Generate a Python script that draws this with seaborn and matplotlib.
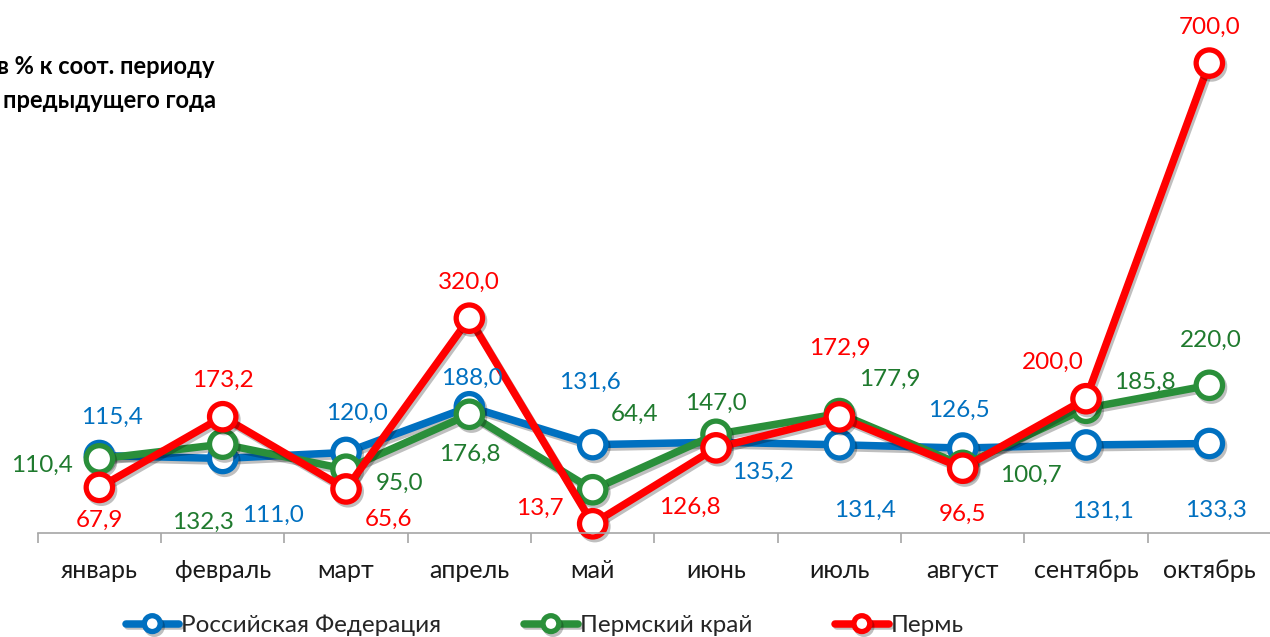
import matplotlib
matplotlib.use("Agg")
import matplotlib.pyplot as plt
import matplotlib.patheffects as pe
import seaborn as sns
import pandas as pd

# данные
months = ["январь", "февраль", "март", "апрель", "май", "июнь", "июль",
          "август", "сентябрь", "октябрь"]
rf = [115.4, 111.0, 120.0, 188.0, 131.6, 135.2, 131.4, 126.5, 131.1, 133.3]
krai = [110.4, 132.3, 95.0, 176.8, 64.4, 147.0, 177.9, 100.7, 185.8, 220.0]
perm = [67.9, 173.2, 65.6, 320.0, 13.7, 126.8, 172.9, 96.5, 200.0, 700.0]
names = ["Российская Федерация", "Пермский край", "Пермь"]

# смещения подписей в пикселях (вправо, вниз)
off_rf = [(13, -38), (50, 57), (11, -39), (2, -28), (-3, -62),
          (47, 30), (26, 66), (-4, -38), (17, 66), (7, 67)]
off_krai = [(-57, 6), (-20, 78), (54, 14), (0, 40), (42, -75),
            (0, -31), (50, -34), (68, 10), (59, -26), (1, -45)]
off_perm = [(0, 33), (0, -36), (42, 30), (0, -36), (-53, -15),
            (-26, 59), (0, -69), (0, 46), (-33, -36), (0, -36)]

sns.set_style("white")
plt.rcParams["font.family"] = ["Lato", "DejaVu Sans"]

fig = plt.figure(figsize=(12.7, 6.37), dpi=100)
ax = fig.add_axes([0.0297, 0.1633, 0.9711, 0.8367])

series = [
    (rf, names[0], "#0070C0", "#0070C0", off_rf),
    (krai, names[1], "#2A8F3A", "#1F7A2E", off_krai),
    (perm, names[2], "#FF0000", "#FF0000", off_perm),
]

x = list(range(len(months)))
for vals, name, col, tcol, offs in series:
    df = pd.DataFrame({"x": x, "y": vals})
    sns.lineplot(data=df, x="x", y="y", ax=ax, color=col, lw=5.4,
                 marker="o", markersize=19, markerfacecolor="white",
                 markeredgecolor=col, markeredgewidth=3.8, label=name,
                 clip_on=False,
                 path_effects=[pe.SimpleLineShadow(offset=(1.5, -2), alpha=0.25),
                               pe.Normal()])
    for xi, v, (dx, dy) in zip(x, vals, offs):
        ax.annotate(f"{v:.1f}".replace(".", ","), (xi, v),
                    xytext=(dx, -dy), textcoords="offset pixels",
                    ha="center", va="center", fontsize=17.5, color=tcol)

ax.set_xlim(-0.5, 9.5)
ax.set_ylim(0, 794)
ax.set_xticks(x)
ax.set_xticklabels(months, fontsize=18, color="#1a1a1a")
ax.set_xticks([i + 0.5 for i in range(-1, 10)], minor=True)
ax.tick_params(axis="x", which="major", bottom=False, length=0, pad=19)
ax.tick_params(axis="x", which="minor", bottom=True, length=7, width=1.2,
               color="#A6A6A6", direction="out")
ax.set_yticks([])
ax.set_xlabel("")
ax.set_ylabel("")
for s in ["top", "right", "left"]:
    ax.spines[s].set_visible(False)
ax.spines["bottom"].set_color("#A6A6A6")
ax.spines["bottom"].set_linewidth(1.2)

ax.get_legend().remove()
handles, labels = ax.get_legend_handles_labels()
fig.legend(handles, labels, loc="lower center", bbox_to_anchor=(0.429, -0.033),
           ncol=3, frameon=False, fontsize=17.5, handlelength=2.2,
           handletextpad=0.1, columnspacing=3.4, markerscale=0.6)

fig.text(-0.002, 0.896, "в % к соот. периоду", ha="left", va="center",
         fontsize=17, fontweight="bold", color="black")
fig.text(0.002, 0.843, "предыдущего года", ha="left", va="center",
         fontsize=17, fontweight="bold", color="black")

fig.savefig("out.png", dpi=100)
